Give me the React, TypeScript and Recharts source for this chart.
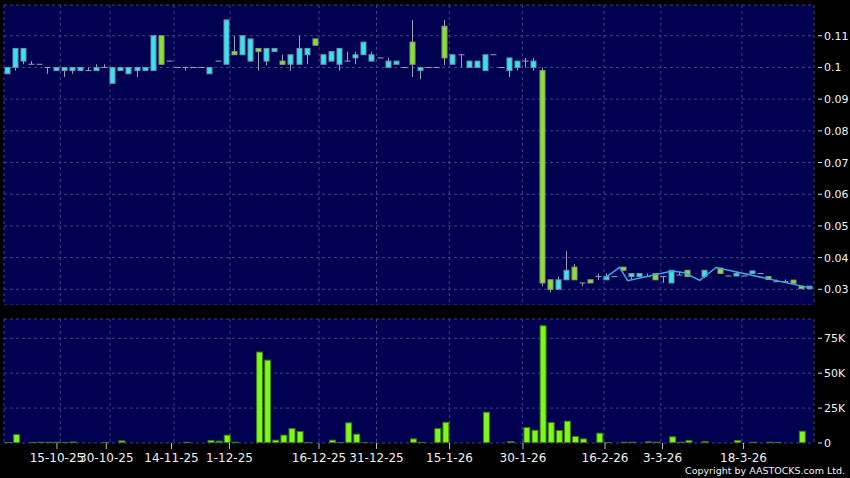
import React from 'react';
import { ComposedChart, Bar, Line, XAxis, YAxis, CartesianGrid } from 'recharts';

const opens: (number | null)[] = [
  0.098, 0.1, 0.102, 0.101, 0.101, 0.1, 0.099, 0.099, 0.099, 0.099,
  0.099, 0.099, 0.1, 0.095, 0.099, 0.098, 0.099, 0.099, 0.099, 0.11,
  0.102, 0.1, 0.1, 0.1, 0.1, 0.098, 0.102, 0.101, 0.105, 0.104,
  0.102, 0.106, 0.102, 0.105, 0.102, 0.101, 0.101, 0.104, 0.109, 0.101,
  0.102, 0.101, 0.102, 0.103, 0.104, 0.102, 0.103, 0.1, 0.101, 0.1,
  0.108, 0.099, 0.1, 0.1, 0.113, 0.101, 0.104, 0.1, 0.1, 0.099,
  0.104, 0.1, 0.099, 0.1, 0.102, 0.1, 0.099, 0.033, 0.03, 0.033,
  0.037, 0.032, 0.033, 0.034, 0.033, 0.034, 0.037, 0.034, 0.034, 0.034,
  0.035, 0.034, 0.032, 0.0345, 0.036, null, 0.034, null, 0.0367, 0.0342,
  0.0342, 0.0342, 0.035, 0.035, 0.034, 0.0324, 0.0324, 0.0329, 0.031, 0.0302,
];
const highs: (number | null)[] = [
  0.1, 0.106, 0.106, 0.102, 0.101, 0.1, 0.1, 0.1, 0.1, 0.1,
  0.1, 0.101, 0.101, 0.1, 0.1, 0.1, 0.1, 0.1, 0.11, 0.11,
  0.102, 0.1, 0.1, 0.1, 0.1, 0.1, 0.102, 0.115, 0.11, 0.11,
  0.109, 0.106, 0.106, 0.106, 0.104, 0.104, 0.11, 0.106, 0.109, 0.104,
  0.105, 0.106, 0.105, 0.105, 0.108, 0.105, 0.103, 0.103, 0.102, 0.1,
  0.115, 0.1, 0.1, 0.1, 0.115, 0.104, 0.104, 0.102, 0.102, 0.104,
  0.104, 0.1, 0.103, 0.102, 0.103, 0.103, 0.1, 0.033, 0.034, 0.042,
  0.038, 0.032, 0.033, 0.035, 0.035, 0.034, 0.037, 0.035, 0.035, 0.035,
  0.035, 0.034, 0.036, 0.0355, 0.036, null, 0.036, null, 0.0367, 0.0342,
  0.0357, 0.0342, 0.0358, 0.035, 0.034, 0.0331, 0.0331, 0.0329, 0.031, 0.031,
];
const lows: (number | null)[] = [
  0.098, 0.099, 0.101, 0.101, 0.101, 0.098, 0.099, 0.097, 0.098, 0.099,
  0.099, 0.099, 0.1, 0.095, 0.099, 0.098, 0.097, 0.099, 0.099, 0.101,
  0.102, 0.1, 0.099, 0.1, 0.1, 0.098, 0.102, 0.101, 0.104, 0.104,
  0.102, 0.099, 0.1007, 0.105, 0.101, 0.099, 0.101, 0.101, 0.107, 0.101,
  0.102, 0.099, 0.102, 0.101, 0.104, 0.102, 0.103, 0.1, 0.101, 0.1,
  0.097, 0.0963, 0.1, 0.1, 0.1007, 0.101, 0.1, 0.1, 0.1, 0.099,
  0.104, 0.1, 0.097, 0.099, 0.1, 0.099, 0.031, 0.029, 0.03, 0.033,
  0.033, 0.031, 0.032, 0.033, 0.033, 0.034, 0.036, 0.033, 0.034, 0.034,
  0.033, 0.032, 0.032, 0.0345, 0.034, null, 0.0335, null, 0.035, 0.0342,
  0.0342, 0.0342, 0.035, 0.035, 0.0331, 0.0324, 0.0324, 0.0319, 0.0302, 0.0302,
];
const closes: (number | null)[] = [
  0.1, 0.106, 0.106, 0.101, 0.101, 0.1, 0.1, 0.1, 0.1, 0.1,
  0.099, 0.1, 0.1, 0.1, 0.1, 0.1, 0.1, 0.1, 0.11, 0.101,
  0.102, 0.1, 0.1, 0.1, 0.1, 0.1, 0.102, 0.115, 0.104, 0.11,
  0.109, 0.105, 0.106, 0.106, 0.101, 0.104, 0.106, 0.106, 0.107, 0.104,
  0.105, 0.106, 0.102, 0.104, 0.108, 0.104, 0.103, 0.102, 0.102, 0.1,
  0.101, 0.1, 0.1, 0.1, 0.103, 0.104, 0.104, 0.102, 0.102, 0.104,
  0.104, 0.1, 0.103, 0.102, 0.102, 0.102, 0.032, 0.03, 0.033, 0.036,
  0.033, 0.032, 0.032, 0.034, 0.034, 0.034, 0.036, 0.035, 0.035, 0.034,
  0.033, 0.034, 0.036, 0.0345, 0.034, null, 0.036, null, 0.035, 0.0342,
  0.035, 0.0342, 0.0358, 0.035, 0.0331, 0.0324, 0.0324, 0.0319, 0.0302, 0.031,
];
const volumes: (number | null)[] = [
  700, 6400, null, 700, 900, 900, 900, 700, 1100, null,
  null, null, 700, null, 1900, null, null, null, null, null,
  null, null, 900, null, null, 2100, 1700, 6000, 900, null,
  null, 65500, 59700, 2400, 6000, 10700, 8600, 700, null, null,
  2400, 700, 14800, 6700, 500, 200, null, null, null, null,
  3300, 800, null, 10700, 15200, null, null, null, null, 22400,
  null, null, 1400, null, 11400, 9500, 84300, 15000, 9300, 16000,
  5000, 3300, null, 7400, 700, null, 900, 900, null, 1200,
  900, null, 4800, 900, 2100, null, 1400, null, null, null,
  2100, null, 900, null, 900, 700, null, null, 8800, null,
];

const tickLabels = ['15-10-25', '30-10-25', '14-11-25', '1-12-25', '16-12-25', '31-12-25', '15-1-26', '30-1-26', '16-2-26', '3-3-26', '18-3-26'];
const tickIdx = [6.04, 12.13, 20.18, 27.34, 38.39, 45.49, 54.5, 63.57, 73.7, 80.8, 90.8];
const gridIdx = [6.45, 12.59, 20.49, 27.4, 38.39, 45.49, 54.48, 63.49, 73.57, 80.6, 90.6];

const priceTicks = [0.03, 0.04, 0.05, 0.06, 0.07, 0.08, 0.09, 0.1, 0.11];
const volTicks = [0, 25000, 50000, 75000];

const lineIdx = [73.5, 75.5, 76.5, 82, 83.5, 85.4, 87.4, 99.3];
const lineVals = [0.0332, 0.0369, 0.0327, 0.0358, 0.0352, 0.0328, 0.0369, 0.0303];

const PAD = 0.001;
const data = opens.map((o, i) => ({
  i,
  o,
  h: highs[i],
  l: lows[i],
  c: closes[i],
  vol: volumes[i],
}));
const lineData = lineIdx.map((i, k) => ({ i, v: lineVals[k] }));

const NAVY = '#000050';
const GRID = '#444488';
const CYAN = '#38e2ee';
const GREEN = '#86e22e';
const WICK = '#a0a0b4';

const Candle = (props: any) => {
  const { x, y, width, height, payload } = props;
  if (!payload || payload.o == null || payload.h == null) return null;
  const hi = payload.h + PAD;
  const lo = payload.l - PAD;
  const k = height / (hi - lo);
  const py = (v: number) => y + (hi - v) * k;
  const cx = Math.round(x + width / 2) - 0.5;
  const o = payload.o, c = payload.c;
  const top = py(Math.max(o, c));
  const bot = py(Math.min(o, c));
  const parts: any[] = [];
  if (payload.h > payload.l) {
    parts.push(<line key="w" x1={cx} x2={cx} y1={py(payload.h)} y2={py(payload.l)} stroke={WICK} strokeWidth={1} />);
  }
  if (o === c) {
    parts.push(<line key="d" x1={cx - 3} x2={cx + 3} y1={top} y2={top} stroke={WICK} strokeWidth={1} />);
  } else {
    const up = c > o;
    parts.push(
      <rect key="b" x={cx - 2.5} y={top} width={5} height={Math.max(bot - top, 1)}
        fill={up ? CYAN : GREEN} stroke={up ? '#6f93a6' : '#8a9c78'} strokeWidth={1} />
    );
  }
  return <g>{parts}</g>;
};

const VolBar = (props: any) => {
  const { x, y, width, height, payload } = props;
  if (!payload || !payload.vol || !(height > 0)) return null;
  return <rect x={x + 0.5} y={y + 0.5} width={width - 1} height={Math.max(height - 1, 0.5)} fill="#7ff61c" stroke="#3c7a12" strokeWidth={1} />;
};

const fmtPrice = (v: number) => String(Number(v.toFixed(2)));
const fmtVol = (v: number) => (v === 0 ? '0' : `${v / 1000}K`);

const RightTick = (props: any) => {
  const { x, y, payload, fmt } = props;
  return (
    <g>
      <line x1={x + 4} x2={x + 8} y1={y} y2={y} stroke="#dddddd" strokeWidth={1} />
      <text x={x + 10} y={y} dy={4} fill="#f2f2f2" fontSize={11} fontFamily='"DejaVu Sans", sans-serif'>
        {fmt(payload.value)}
      </text>
    </g>
  );
};

export default function App() {
  return (
    <div style={{ position: 'absolute', left: 0, top: 0, width: 850, height: 478, background: '#000', fontFamily: '"DejaVu Sans", sans-serif', overflow: 'hidden' }}>
      <div style={{ position: 'absolute', left: 0, top: 0 }}>
        <ComposedChart width={850} height={305} data={data} margin={{ top: 5, right: 0, bottom: 0, left: 4 }}>
          <CartesianGrid fill={NAVY} stroke={GRID} strokeDasharray="3 3" />
          <XAxis dataKey="i" type="number" domain={[-0.5, 99.5]} allowDataOverflow ticks={gridIdx} height={0} hide />
          <YAxis orientation="right" width={36} type="number" domain={[0.02505, 0.1197]} allowDataOverflow
            ticks={priceTicks} axisLine={false} tickLine={false} tickSize={0} tickMargin={0}
            tick={<RightTick fmt={fmtPrice} />} />
          <Bar dataKey={(d: any) => (d.o == null ? null : [d.l - PAD, d.h + PAD])} barSize={8} shape={<Candle />} isAnimationActive={false} />
          <Line data={lineData} dataKey="v" type="linear" stroke="#3fa6e2" strokeWidth={1.5} dot={false} activeDot={false} isAnimationActive={false} />
        </ComposedChart>
      </div>
      <div style={{ position: 'absolute', left: 0, top: 305 }}>
        <ComposedChart width={850} height={173} data={data} margin={{ top: 14, right: 0, bottom: 0, left: 4 }}>
          <CartesianGrid fill={NAVY} stroke={GRID} strokeDasharray="3 3" />
          <XAxis dataKey="i" type="number" domain={[-0.5, 99.5]} allowDataOverflow ticks={gridIdx} height={0} hide />
          <XAxis xAxisId="lab" dataKey="i" type="number" domain={[-0.5, 99.5]} allowDataOverflow ticks={tickIdx}
            tickFormatter={(v: number) => tickLabels[tickIdx.indexOf(v)] ?? ''}
            height={35} axisLine={false} tickSize={6} tickMargin={4} interval={0}
            tickLine={{ stroke: '#bbbbbb' }} tick={{ fill: '#f2f2f2', fontSize: 12 }} />
          <YAxis orientation="right" width={36} type="number" domain={[0, 88800]} allowDataOverflow
            ticks={volTicks} axisLine={false} tickLine={false} tickSize={0} tickMargin={0}
            tick={<RightTick fmt={fmtVol} />} />
          <Bar dataKey="vol" barSize={7} shape={<VolBar />} isAnimationActive={false} />
        </ComposedChart>
      </div>
      <div style={{ position: 'absolute', right: 5, top: 465, color: '#f2f2f2', fontSize: 9.5, whiteSpace: 'nowrap' }}>
        Copyright by AASTOCKS.com Ltd.
      </div>
    </div>
  );
}
